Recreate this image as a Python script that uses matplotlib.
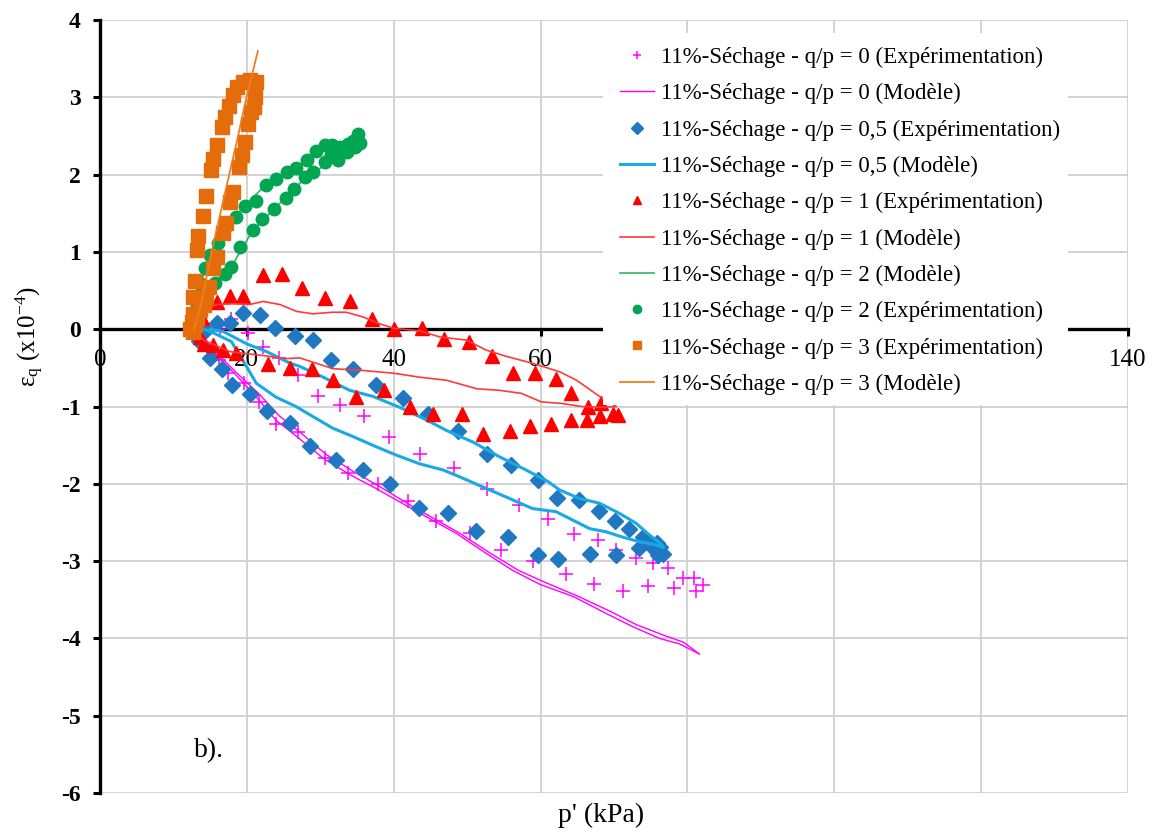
import matplotlib
matplotlib.use('Agg')
import matplotlib.pyplot as plt
from matplotlib.patches import Rectangle

plt.rcParams['font.family'] = ['Liberation Serif', 'DejaVu Serif']
plt.rcParams['mathtext.fontset'] = 'custom'
plt.rcParams['mathtext.rm'] = 'Liberation Serif'
plt.rcParams['mathtext.it'] = 'Liberation Serif:italic'
plt.rcParams['axes.unicode_minus'] = False

# ---------------- data ----------------
# q/p = 0
p0_exp_x = [12.5, 13.2, 14.0, 16.3, 17.9, 20.2, 22.2, 24.4, 27.0, 29.7, 32.7, 36.0, 39.4, 43.6, 48.2, 52.7,
            57.1, 61.0, 64.6, 67.8, 70.3, 73.0, 75.3, 77.3, 79.4, 80.9, 82.1, 81.1, 78.2, 74.6, 71.2, 67.3,
            63.5, 59.0, 54.6, 50.4, 45.8, 42.0, 37.9, 33.8, 30.6, 27.0, 24.0, 21.6, 19.6, 17.5, 16.2, 14.8, 13.5]
p0_exp_y = [0.0, 0.05, 0.02, 0.0, 0.13, -0.05, -0.23, -0.37, -0.59, -0.87, -0.98, -1.12, -1.39, -1.61, -1.79, -2.07,
            -2.27, -2.45, -2.65, -2.73, -2.86, -2.96, -3.03, -3.09, -3.22, -3.22, -3.31, -3.38, -3.35, -3.32, -3.38, -3.30,
            -3.17, -3.00, -2.86, -2.64, -2.48, -2.22, -2.00, -1.86, -1.67, -1.33, -1.22, -0.94, -0.70, -0.57, -0.40, -0.25, -0.10]
p0_modA_x = [13.0, 15.0, 18.6, 21.3, 24.0, 26.7, 30.4, 34.0, 37.6, 41.3, 44.9, 48.5, 52.6, 56.2, 59.9, 64.5,
             69.0, 72.6, 76.2, 78.9, 81.6]
p0_modA_y = [-0.05, -0.25, -0.60, -0.88, -1.18, -1.38, -1.67, -1.88, -2.06, -2.26, -2.45, -2.64, -2.90, -3.12, -3.30, -3.46,
             -3.68, -3.85, -4.00, -4.07, -4.20]
p0_modB_x = [81.6, 79.5, 76.8, 73.0, 69.5, 65.0, 60.5, 57.0, 53.2, 49.0, 45.5, 41.8, 38.0, 34.5, 30.8, 27.2,
             24.4, 21.6, 19.0, 15.5, 13.2]
p0_modB_y = [-4.20, -4.05, -3.96, -3.82, -3.65, -3.45, -3.27, -3.12, -2.90, -2.64, -2.45, -2.25, -2.03, -1.84, -1.62, -1.33,
             -1.12, -0.83, -0.60, -0.27, -0.07]

# q/p = 0.5
p05_exp_x = [12.8, 14.5, 15.9, 17.7, 19.5, 21.8, 23.9, 26.5, 29.0, 31.5, 34.4, 37.6, 41.2, 44.7, 48.8, 52.7,
             56.0, 59.6, 62.3, 65.2, 67.9, 70.2, 72.0, 73.9, 75.1, 75.8, 76.3, 76.7, 76.0, 73.4, 70.3, 66.7,
             62.4, 59.7, 55.5, 51.2, 47.4, 43.4, 39.5, 35.8, 32.1, 28.6, 25.9, 22.8, 20.4, 18.0, 16.6, 15.0, 13.5]
p05_exp_y = [-0.02, -0.01, 0.08, 0.08, 0.21, 0.18, 0.01, -0.09, -0.14, -0.40, -0.52, -0.72, -0.89, -1.10, -1.32, -1.62,
             -1.76, -1.95, -2.18, -2.21, -2.35, -2.48, -2.59, -2.69, -2.80, -2.77, -2.82, -2.91, -2.92, -2.83, -2.92, -2.91,
             -2.97, -2.92, -2.69, -2.61, -2.38, -2.31, -2.00, -1.82, -1.69, -1.51, -1.21, -1.06, -0.84, -0.72, -0.51, -0.37, -0.15]
p05_modA_x = [15.0, 16.8, 20.0, 22.7, 25.9, 27.2, 30.4, 34.0, 37.2, 40.8, 44.4, 47.2, 50.8, 54.4, 58.0, 61.0,
              62.6, 65.3, 68.0, 70.7, 73.0, 74.8, 76.3, 76.7]
p05_modA_y = [0.0, -0.03, -0.19, -0.29, -0.44, -0.48, -0.62, -0.79, -0.87, -1.01, -1.17, -1.31, -1.46, -1.65, -1.82, -1.97,
              -2.08, -2.19, -2.25, -2.38, -2.51, -2.66, -2.77, -2.82]
p05_modB_x = [76.7, 75.3, 73.5, 71.2, 68.9, 66.7, 64.4, 62.1, 58.9, 55.3, 52.6, 49.0, 46.7, 43.5, 40.4, 37.6,
              34.5, 31.7, 29.0, 26.7, 24.0, 21.3, 20.0, 17.9, 15.5, 14.2]
p05_modB_y = [-2.82, -2.78, -2.75, -2.69, -2.62, -2.58, -2.47, -2.36, -2.32, -2.17, -2.06, -1.91, -1.82, -1.74, -1.63, -1.52,
              -1.39, -1.28, -1.13, -1.00, -0.88, -0.70, -0.49, -0.16, -0.05, 0.0]

# q/p = 1
p1_exp_x = [12.8, 13.9, 16.0, 17.7, 19.5, 22.2, 24.8, 27.5, 30.7, 34.0, 37.1, 40.1, 43.8, 46.8, 50.2, 53.4,
            56.2, 59.2, 62.1, 64.2, 66.4, 68.2, 69.8, 70.5, 68.1, 66.3, 64.2, 61.4, 58.5, 55.9, 52.2, 49.3,
            45.4, 42.2, 38.7, 34.9, 31.7, 28.9, 25.9, 22.9, 18.5, 16.7, 15.4, 14.2, 13.6]
p1_exp_y = [0.05, 0.15, 0.35, 0.43, 0.43, 0.70, 0.72, 0.54, 0.40, 0.36, 0.13, 0.0, 0.01, -0.12, -0.16, -0.34,
            -0.57, -0.57, -0.64, -0.82, -1.01, -0.95, -1.09, -1.11, -1.12, -1.18, -1.18, -1.22, -1.25, -1.31, -1.36, -1.09,
            -1.10, -1.01, -0.79, -0.88, -0.66, -0.52, -0.50, -0.45, -0.31, -0.27, -0.20, -0.19, -0.10]
p1_modA_x = [12.8, 14.5, 16.0, 18.1, 20.4, 22.2, 24.5, 26.8, 29.0, 31.7, 33.5, 35.8, 38.1, 40.1, 43.5, 46.3,
             49.9, 52.6, 55.3, 58.9, 62.6, 64.9, 68.5, 70.3]
p1_modA_y = [0.05, 0.27, 0.32, 0.33, 0.32, 0.36, 0.32, 0.23, 0.20, 0.22, 0.22, 0.16, 0.07, 0.01, -0.02, -0.10,
             -0.14, -0.27, -0.35, -0.44, -0.55, -0.66, -0.90, -1.00]
p1_modB_x = [70.3, 68.5, 65.6, 62.9, 60.1, 57.4, 54.4, 51.3, 47.2, 43.5, 40.1, 35.4, 31.7, 27.2, 25.4, 22.2, 17.7, 14.1, 12.8]
p1_modB_y = [-1.00, -1.01, -1.00, -0.96, -0.94, -0.83, -0.79, -0.77, -0.66, -0.62, -0.57, -0.53, -0.51, -0.37, -0.38, -0.34,
             -0.29, -0.14, 0.0]

# q/p = 2
p2_exp_x = [12.8, 13.2, 13.7, 14.3, 15.0, 16.1, 17.2, 18.5, 19.7, 21.2, 22.6, 24.0, 25.5, 26.7, 28.2, 29.4,
            30.6, 31.6, 32.7, 33.8, 34.5, 35.1, 35.4, 34.7, 33.6, 32.4, 31.5, 30.6, 29.0, 27.9, 26.4, 25.3,
            23.7, 22.0, 20.8, 19.1, 17.9, 17.0, 15.6, 14.5, 13.6]
p2_exp_y = [0.10, 0.30, 0.59, 0.79, 0.96, 1.12, 1.33, 1.45, 1.60, 1.66, 1.87, 1.95, 2.04, 2.09, 2.19, 2.30,
            2.39, 2.39, 2.36, 2.40, 2.44, 2.52, 2.41, 2.36, 2.29, 2.19, 2.25, 2.16, 2.04, 1.97, 1.82, 1.70,
            1.55, 1.42, 1.28, 1.06, 0.81, 0.72, 0.60, 0.47, 0.45]
p2_mod_x = [12.8, 13.7, 15.0, 17.2, 19.7, 22.6, 25.5, 28.2, 30.6, 33.8, 35.1, 34.7, 32.4, 29.0, 26.4, 23.7,
            20.8, 17.9, 15.6, 13.6, 12.9]
p2_mod_y = [0.10, 0.59, 0.96, 1.33, 1.60, 1.87, 2.04, 2.19, 2.39, 2.40, 2.48, 2.36, 2.19, 2.04, 1.82, 1.55,
            1.28, 0.81, 0.60, 0.45, 0.30]

# q/p = 3
p3_exp_x = [12.3, 12.6, 12.5, 12.7, 12.9, 13.2, 13.4, 14.0, 14.4, 15.1, 15.4, 15.9, 16.6, 17.0, 17.6, 18.1,
            18.7, 19.5, 20.4, 21.3, 21.1, 21.0, 20.5, 20.2, 19.7, 19.4, 18.9, 18.1, 17.7, 17.1, 16.7, 15.9,
            15.4, 14.9, 14.5, 14.1, 13.6, 13.2, 12.9, 12.6]
p3_exp_y = [0.0, 0.20, 0.09, 0.42, 0.63, 1.03, 1.20, 1.47, 1.72, 2.06, 2.20, 2.38, 2.62, 2.74, 2.89, 3.03,
            3.14, 3.20, 3.22, 3.20, 3.00, 2.88, 2.81, 2.66, 2.42, 2.25, 2.10, 1.77, 1.65, 1.37, 1.24, 0.94,
            0.79, 0.55, 0.42, 0.31, 0.25, 0.15, 0.05, -0.03]
p3_mod_x = [12.8, 13.7, 15.2, 16.4, 17.6, 18.8, 19.95, 21.5]
p3_mod_y = [0.0, 0.30, 1.00, 1.50, 2.00, 2.50, 3.00, 3.60]

labels = [
    "11%-Séchage - q/p = 0 (Expérimentation)",
    "11%-Séchage - q/p = 0 (Modèle)",
    "11%-Séchage - q/p = 0,5 (Expérimentation)",
    "11%-Séchage - q/p = 0,5 (Modèle)",
    "11%-Séchage - q/p = 1 (Expérimentation)",
    "11%-Séchage - q/p = 1 (Modèle)",
    "11%-Séchage - q/p = 2 (Modèle)",
    "11%-Séchage - q/p = 2 (Expérimentation)",
    "11%-Séchage - q/p = 3 (Expérimentation)",
    "11%-Séchage - q/p = 3 (Modèle)",
]
x_ticks = [0, 20, 40, 60, 80, 100, 120, 140]
# 80, 100 and 120 are hidden behind the legend in the original
x_tick_labels = ['0', '20', '40', '60', '', '', '', '140']
y_ticks = [-6, -5, -4, -3, -2, -1, 0, 1, 2, 3, 4]

# ---------------- figure ----------------
fig = plt.figure(figsize=(11.56, 8.36), dpi=100)
ax = fig.add_axes([0.0865, 0.0514, 0.8893, 0.9246])
ax.set_xlim(0, 140)
ax.set_ylim(-6, 4)

MAG = '#FF00FF'
BLUE_M = '#1F78C1'
BLUE_L = '#19AAE3'
RED = '#FF0000'
RED_L = '#FF3A3A'
GREEN = '#00A651'
GREEN_L = '#2DB56A'
ORANGE = '#E46C0A'
ORANGE_L = '#F07D1E'

z = 3
h0e, = ax.plot(p0_exp_x, p0_exp_y, ls='none', marker='+', ms=10, mew=1.1, color=MAG, zorder=z)
h0m, = ax.plot(p0_modA_x, p0_modA_y, color=MAG, lw=1.0, zorder=z)
ax.plot(p0_modB_x, p0_modB_y, color=MAG, lw=1.0, zorder=z)
h05e, = ax.plot(p05_exp_x, p05_exp_y, ls='none', marker='D', ms=8, color=BLUE_M, mec=BLUE_M, zorder=z)
h05m, = ax.plot(p05_modA_x, p05_modA_y, color=BLUE_L, lw=2.2, zorder=z)
ax.plot(p05_modB_x, p05_modB_y, color=BLUE_L, lw=2.2, zorder=z)
h1e, = ax.plot(p1_exp_x, p1_exp_y, ls='none', marker='^', ms=9.5, color=RED, mec=RED, zorder=z)
h1m, = ax.plot(p1_modA_x, p1_modA_y, color=RED_L, lw=1.2, zorder=z)
ax.plot(p1_modB_x, p1_modB_y, color=RED_L, lw=1.2, zorder=z)
h2m, = ax.plot(p2_mod_x, p2_mod_y, color=GREEN_L, lw=1.2, zorder=z)
h2e, = ax.plot(p2_exp_x, p2_exp_y, ls='none', marker='o', ms=9, color=GREEN, mec=GREEN, zorder=z)
h3e, = ax.plot(p3_exp_x, p3_exp_y, ls='none', marker='s', ms=9.5, color=ORANGE, mec=ORANGE, zorder=z)
h3m, = ax.plot(p3_mod_x, p3_mod_y, color=ORANGE_L, lw=1.3, zorder=z)

# grid & spines
ax.set_xticks(x_ticks)
ax.set_xticklabels(x_tick_labels)
ax.set_yticks(y_ticks)
ax.grid(True, color='#D0D0D0', lw=1.3)
ax.set_axisbelow(True)
for s in ['top', 'right']:
    ax.spines[s].set_visible(False)
ax.spines['bottom'].set_position(('data', 0))
ax.spines['bottom'].set_linewidth(2.4)
ax.spines['left'].set_linewidth(2.4)
ax.spines['bottom'].set_zorder(2.6)
ax.tick_params(axis='x', direction='out', length=5, width=2.2, labelsize=18, pad=9)
ax.tick_params(axis='y', direction='out', length=5, width=2.2, labelsize=17, pad=9)
for t in ax.get_yticklabels():
    t.set_fontweight('bold')

# white legend background covering the plot
ax.add_patch(Rectangle((0.4893, 0.5019), 0.4523, 0.4813, transform=ax.transAxes,
                       facecolor='white', edgecolor='none', zorder=5))

handles = [h0e, h0m, h05e, h05m, h1e, h1m, h2m, h2e, h3e, h3m]
leg = fig.legend(handles, labels, loc='upper left', bbox_to_anchor=(0.536, 0.944),
                 frameon=False, fontsize=16.5, numpoints=1, handlelength=1.5,
                 handletextpad=0.3, labelspacing=0.66, borderpad=0, borderaxespad=0)
for lh in leg.legend_handles:
    if lh.get_marker() not in (None, 'None', ''):
        lh.set_markersize(6)
leg.set_zorder(10)

ax.text(12.8, -5.45, 'b).', fontsize=20, va='center', ha='left')

fig.text(601 / 1156, 1 - 815 / 836, "p' (kPa)", fontsize=20, ha='center', va='center')
fig.text(30 / 1156, 1 - 337 / 836, r'$\mathregular{ε_q}$ (x10$^{\mathregular{-4}}$)', fontsize=18,
         rotation=90, ha='center', va='center')

fig.savefig('out.png', dpi=100)
